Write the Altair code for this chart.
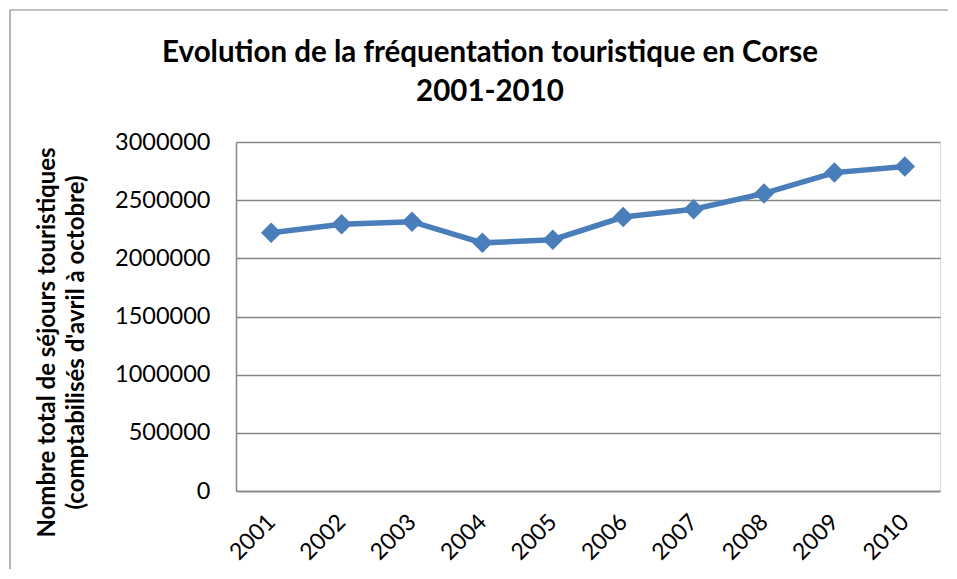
import altair as alt
import pandas as pd

years = ["2001", "2002", "2003", "2004", "2005", "2006", "2007", "2008", "2009", "2010"]
sejours = [2220000, 2292000, 2315000, 2133000, 2160000, 2355000, 2422000, 2558000, 2737000, 2789000]
y_ticks = [0, 500000, 1000000, 1500000, 2000000, 2500000, 3000000]
title_lines = ["Evolution de la fréquentation touristique en Corse", "2001-2010"]

df = pd.DataFrame({"annee": years, "sejours": sejours})

FONT = "Lato"
GRAY = "#868686"
BLUE = "#4A7EBB"

x = alt.X("annee:O", sort=years,
          scale=alt.Scale(type="point", padding=0.5),
          axis=alt.Axis(title=None, labelAngle=-45, labelAlign="right", labelBaseline="middle",
                        labelFontSize=23, labelFont=FONT, labelColor="black", labelPadding=27,
                        ticks=False, domainColor=GRAY, domainWidth=1.5, grid=False))
y = alt.Y("sejours:Q",
          scale=alt.Scale(domain=[0, 3000000], nice=False, zero=True),
          axis=alt.Axis(values=y_ticks, format="d",
                        title=["Nombre total de séjours touristiques", "(comptabilisés d'avril à octobre)"],
                        titleFont=FONT, titleFontSize=24, titleFontWeight="bold", titleColor="black",
                        titleLineHeight=29, titleAngle=-90, titleAlign="center", titleBaseline="middle",
                        titleAnchor="start", titleX=-189, titleY=200,
                        labelFontSize=23.5, labelFont=FONT, labelColor="black", labelPadding=26,
                        ticks=False, domainColor=GRAY, domainWidth=1.5,
                        gridColor=GRAY, gridWidth=1.5))

line = alt.Chart(df).mark_line(color=BLUE, strokeWidth=5.5).encode(x=x, y=y)
pts = alt.Chart(df).mark_point(shape="diamond", filled=True, size=420, color=BLUE, opacity=1).encode(x=x, y=y)

border = alt.Chart(pd.DataFrame({"a": [0]})).mark_rect(fill=None, stroke=GRAY, strokeWidth=1.2).encode(
    x=alt.value(-226), x2=alt.value(760), y=alt.value(-132), y2=alt.value(480))

title1 = alt.Chart(pd.DataFrame({"t": [title_lines[0]]})).mark_text(
    font=FONT, fontSize=29.5, fontWeight="bold", color="black", align="center", baseline="alphabetic"
).encode(text="t:N", x=alt.value(254), y=alt.value(-80))
title2 = alt.Chart(pd.DataFrame({"t": [title_lines[1]]})).mark_text(
    font=FONT, fontSize=29.5, fontWeight="bold", color="black", align="center", baseline="alphabetic"
).encode(text="t:N", x=alt.value(254), y=alt.value(-41))

chart = alt.layer(border, line, pts, title1, title2).properties(
    width=704, height=349,
    autosize=alt.AutoSizeParams(type="none"),
    padding={"left": 228, "top": 134, "right": 8, "bottom": 78},
).configure_view(stroke=None).configure(background="white")

chart.save("out.html", embed_options={"renderer": "svg", "actions": False})
